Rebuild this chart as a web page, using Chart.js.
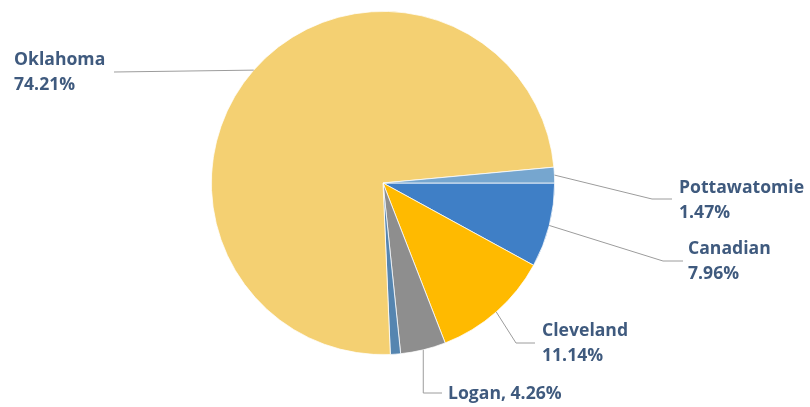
<!DOCTYPE html>
<html>
<head>
<meta charset="utf-8">
<script src="https://cdn.jsdelivr.net/npm/chart.js@4.4.0/dist/chart.umd.min.js"></script>
<style>
  html, body { margin: 0; padding: 0; background: #fff; }
  #wrap { width: 810px; height: 407px; }
</style>
</head>
<body>
<div id="wrap"><canvas id="pieChart"></canvas></div>
<script>
// county shares, clockwise from 3 o'clock
const counties = ['Canadian', 'Cleveland', 'Logan', 'Other', 'Oklahoma', 'Pottawatomie'];
const shares = [7.96, 11.14, 4.26, 0.96, 74.21, 1.47];
const showLabel = [true, true, true, false, true, true];

const sliceColors = ['#3F7FC6', '#FFBA00', '#8E8E8E', '#5585B0', '#F4D072', '#76A6CF'];

// label layout, offsets from the pie centre: elbow of leader, end of leader, text left x, text centre y
const labelLayout = {
  Oklahoma:     { elbow: null,      end: [-269, -111], text: [-369, -110.5], oneLine: false },
  Pottawatomie: { elbow: [269, 16], end: [289, 16],    text: [296, 17.5],    oneLine: false },
  Canadian:     { elbow: [280, 78], end: [300, 78],    text: [305, 78],      oneLine: false },
  Cleveland:    { elbow: [133, 160], end: [152, 160],  text: [159, 160],     oneLine: false },
  Logan:        { elbow: 'down',    end: [59, 210],    text: [65, 210.5],    oneLine: true }
};

const labelPlugin = {
  id: 'leaderLabels',
  afterDraw(chart) {
    const ctx = chart.ctx;
    const meta = chart.getDatasetMeta(0);
    ctx.save();
    meta.data.forEach((arc, i) => {
      if (!showLabel[i]) return;
      const name = counties[i];
      const lay = labelLayout[name];
      const cx = arc.x, cy = arc.y;
      const mid = (arc.startAngle + arc.endAngle) / 2;
      const sx = cx + Math.cos(mid) * arc.outerRadius;
      const sy = cy + Math.sin(mid) * arc.outerRadius;
      const ex = cx + lay.end[0], ey = cy + lay.end[1];

      ctx.strokeStyle = '#9C9C9C';
      ctx.lineWidth = 1;
      ctx.beginPath();
      ctx.moveTo(sx, sy);
      if (lay.elbow === 'down') {
        ctx.lineTo(sx, ey);
      } else if (lay.elbow) {
        ctx.lineTo(cx + lay.elbow[0], cy + lay.elbow[1]);
      }
      ctx.lineTo(ex, ey);
      ctx.stroke();

      const pct = shares[i].toFixed(2) + '%';
      ctx.fillStyle = '#3F5A7E';
      ctx.font = 'bold 17.6px "Open Sans", sans-serif';
      ctx.textAlign = 'left';
      ctx.textBaseline = 'middle';
      const tx = cx + lay.text[0], ty = cy + lay.text[1];
      if (lay.oneLine) {
        ctx.fillText(name + ', ' + pct, tx, ty);
      } else {
        ctx.fillText(name, tx, ty - 12.5);
        ctx.fillText(pct, tx, ty + 12.5);
      }
    });
    ctx.restore();
  }
};

new Chart(document.getElementById('pieChart').getContext('2d'), {
  type: 'pie',
  data: {
    labels: counties,
    datasets: [{
      data: shares,
      backgroundColor: sliceColors,
      borderColor: '#FFFFFF',
      borderWidth: 0.75
    }]
  },
  options: {
    responsive: true,
    maintainAspectRatio: false,
    animation: false,
    rotation: 90,
    layout: { padding: { left: 211, right: 255, top: 11, bottom: 52 } },
    plugins: {
      legend: { display: false },
      tooltip: { enabled: false }
    }
  },
  plugins: [labelPlugin]
});
</script>
</body>
</html>
